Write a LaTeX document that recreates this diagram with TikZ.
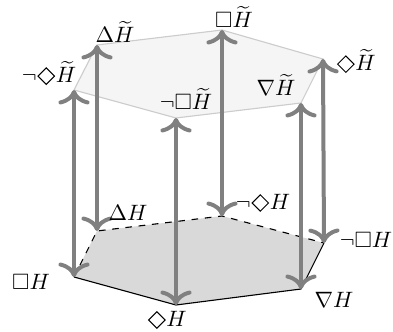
\documentclass[tikz,border=0pt]{standalone}
\usepackage{amsmath}
\usepackage{amssymb}
\usetikzlibrary{arrows.meta}

% open diamond, as wide as the box
\newcommand{\dia}{\mathord{\tikz[baseline={(0pt,-3pt)}]{\path (-4.3pt,0pt) (4.3pt,0pt);
  \draw[line width=0.45pt, line join=miter] (0pt,-3.7pt) -- (3.7pt,0pt) -- (0pt,3.7pt) -- (-3.7pt,0pt) -- cycle;}}}

\begin{document}
\begin{tikzpicture}[
  x=0.45pt, y=-0.45pt,
  link/.style={draw=black!50, line width=1.8pt, arrows={Computer Modern Rightarrow[length=6.5pt,width=14pt]-Computer Modern Rightarrow[length=6.5pt,width=14pt]}},
  upper/.style={fill=black!4, draw=black!20, line width=0.5pt},
  lower/.style={fill=black!15},
  front/.style={draw=black, line width=0.5pt},
  back/.style={draw=black, line width=0.5pt, dashed},
  lab/.style={inner sep=0pt}
]
\useasboundingbox (0,0) rectangle (393,332);
% upper hexagon
\coordinate (nD') at (74,90);
\coordinate (T')  at (97,45);
\coordinate (B')  at (222,30);
\coordinate (D')  at (323,59);
\coordinate (N')  at (301,103);
\coordinate (nB') at (176,118);
% lower hexagon
\coordinate (B)  at (74,277);
\coordinate (T)  at (97,231);
\coordinate (nD) at (222,216);
\coordinate (nB) at (324,243);
\coordinate (N)  at (301,289);
\coordinate (D)  at (176,305);

\path[upper] (nD') -- (T') -- (B') -- (D') -- (N') -- (nB') -- cycle;
\path[lower] (B) -- (T) -- (nD) -- (nB) -- (N) -- (D) -- cycle;
\draw[back]  (B) -- (T) -- (nD) -- (nB);
\draw[front] (nB) -- (N) -- (D) -- (B);

% vertical links
\draw[link] (B)  -- (nD');
\draw[link] (T)  -- (T');
\draw[link] (nD) -- (B');
\draw[link] (nB) -- (D');
\draw[link] (N)  -- (N');
\draw[link] (D)  -- (nB');

% labels
\node[lab] (lnD') at (49,73)   {$\neg\dia\widetilde{H}$};
\node[lab] (lT')  at (115,32)  {$\Delta\widetilde{H}$};
\node[lab] (lB')  at (234,17)  {$\Box\widetilde{H}$};
\node[lab] (lD')  at (356,61)  {$\dia\widetilde{H}$};
\node[lab] (lN')  at (276,85)  {$\nabla\widetilde{H}$};
\node[lab] (lnB') at (186,99)  {$\neg\Box\widetilde{H}$};
\node[lab] (lT)   at (128,213) {$\Delta H$};
\node[lab] (lB)   at (31,282)  {$\Box H$};
\node[lab] (lD)   at (167,320) {$\dia H$};
\node[lab] (lnD)  at (263,203) {$\neg\dia H$};
\node[lab] (lnB)  at (366,240) {$\neg\Box H$};
\node[lab] (lN)   at (334,300) {$\nabla H$};
\end{tikzpicture}
\end{document}
